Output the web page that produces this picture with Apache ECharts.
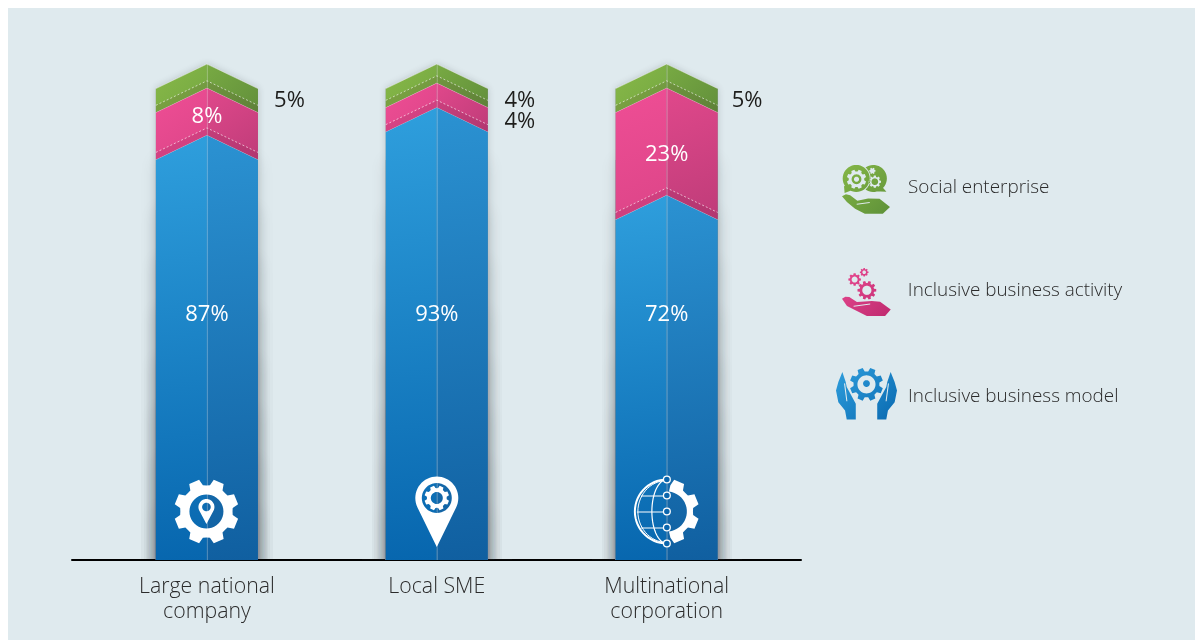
<!DOCTYPE html>
<html><head><meta charset="utf-8">
<style>html,body{margin:0;padding:0;background:#fff}#c{width:1195px;height:640px}</style>
<script src="https://cdn.jsdelivr.net/npm/echarts@6/dist/echarts.min.js"></script>
</head><body><div id="c"></div>
<script>
// Printed values (as labelled in the picture)
const categories = ['Large national\ncompany', 'Local SME', 'Multinational\ncorporation'];
const modelLabels = [87, 93, 72];
const activityLabels = [8, 4, 23];
const socialLabels = [5, 4, 5];
// Segment heights as actually drawn in the picture (the original artwork is not to scale, and
// the bars are all the same height), read on a 0-100 axis.
const modelHeights = [85.7, 91.3, 73.6];
const activityHeights = [9.5, 4.9, 21.6];
const socialHeights = [4.8, 3.8, 4.8];
const seriesNames = ['Inclusive business model', 'Inclusive business activity', 'Social enterprise'];

const FONT = '"Open Sans", sans-serif';
const D = 24.5, STRIP = 7;

// ---------- icon geometry helpers ----------
const area = p => p.reduce((s, q, i) => { const r = p[(i + 1) % p.length]; return s + q[0] * r[1] - r[0] * q[1]; }, 0);
function poly(p, hole) { const a = area(p); return (hole ? a > 0 : a < 0) ? p.slice().reverse() : p; }
function circle(cx, cy, r, n) { const o = []; n = n || 40; for (let i = 0; i < n; i++) { const a = i / n * 2 * Math.PI; o.push([cx + r * Math.cos(a), cy + r * Math.sin(a)]); } return o; }
function gear(cx, cy, R, r, n, phase) {
  const o = [], st = 2 * Math.PI / n;
  for (let i = 0; i < n; i++) {
    const a = i * st + (phase || 0);
    [[-0.33, r], [-0.21, R], [0.21, R], [0.33, r], [0.5, r * 0.985]].forEach(([k, q]) => o.push([cx + q * Math.cos(a + k * st), cy + q * Math.sin(a + k * st)]));
  }
  return o;
}
function pin(cx, cy, r, tipY) {
  const d = tipY - cy, t = Math.acos(r / d), o = [[cx, tipY]];
  const start = Math.PI / 2 - t, end = Math.PI / 2 + t - 2 * Math.PI;
  for (let i = 0; i <= 36; i++) { const a = start + (end - start) * i / 36; o.push([cx + r * Math.cos(a), cy + r * Math.sin(a)]); }
  return o;
}
// padTop / padBottom extend the icon's box with an empty sub-path, which moves the legend text relative to the icon
function toPath(list, padTop, padBottom) {
  let minx = 1e9, miny = 1e9, maxx = -1e9, maxy = -1e9, d = '';
  list.forEach(([p, h]) => {
    const q = poly(p, h);
    q.forEach(([x, y]) => { minx = Math.min(minx, x); miny = Math.min(miny, y); maxx = Math.max(maxx, x); maxy = Math.max(maxy, y); });
    d += 'M' + q.map(([x, y]) => x.toFixed(2) + ' ' + y.toFixed(2)).join('L') + 'Z';
  });
  if (padTop) { miny -= padTop; d += 'M' + minx.toFixed(2) + ' ' + miny.toFixed(2) + 'L' + minx.toFixed(2) + ' ' + miny.toFixed(2) + 'Z'; }
  if (padBottom) { maxy += padBottom; d += 'M' + minx.toFixed(2) + ' ' + maxy.toFixed(2) + 'L' + minx.toFixed(2) + ' ' + maxy.toFixed(2) + 'Z'; }
  return { d, x: minx, y: miny, w: maxx - minx, h: maxy - miny };
}
const zoomed = (pts, ox, oy) => pts.map(([x, y]) => [(x - ox) / 3, (y - oy) / 3]);

// bar icons (local coordinates around the icon centre)
const gearPinIcon = toPath([
  [gear(0, 0, 32.5, 26.5, 8, Math.PI / 8)], [circle(0, 0, 17), true],
  [pin(0, -4.5, 8, 12.5)], [circle(0, -4.5, 4.3), true]
]);
const pinGearIcon = toPath([
  [pin(0, -14, 21.5, 35)], [circle(0, -14, 15), true],
  [gear(0, -14, 12.5, 10, 8, Math.PI / 8)], [circle(0, -14, 6), true]
]);
function halfGear() {
  const pts = gear(0, 0, 32.5, 26.5, 8, Math.PI / 8).filter(p => p[0] > 2);
  const idx = pts.findIndex((p, i) => i > 0 && pts[i - 1][1] > 0 && p[1] < 0);
  const run = idx > 0 ? pts.slice(idx).concat(pts.slice(0, idx)) : pts;
  const inner = [];
  for (let a = 84; a >= -84; a -= 8) inner.push([20 * Math.cos(a * Math.PI / 180), 20 * Math.sin(a * Math.PI / 180)]);
  return run.concat(inner);
}
const halfGearIcon = toPath([[halfGear()]]);

// legend icons
function crescent(x1, x2, y, r1, r2, n) {
  const d = x2 - x1, a = (d * d + r1 * r1 - r2 * r2) / (2 * d);
  const phi = Math.acos(a / r1), th = Math.PI - Math.acos((d - a) / r2), o = [];
  for (let i = 0; i <= n; i++) { const t = -th + 2 * th * i / n; o.push([x2 + r2 * Math.cos(t), y + r2 * Math.sin(t)]); }
  for (let i = 0; i <= n; i++) { const t = phi - 2 * phi * i / n; o.push([x1 + r1 * Math.cos(t), y + r1 * Math.sin(t)]); }
  return o;
}
const socialIcon = toPath([
  [circle(14.5, 14.2, 13.8)],
  [zoomed([[56, 110], [58, 132], [80, 124]], 50, 45)],
  [zoomed([[172, 112], [186, 128], [150, 127]], 50, 45)],
  [gear(14.8, 15, 10, 8, 8, Math.PI / 8), true], [circle(14.8, 15, 5)], [circle(14.8, 15, 2.6), true],
  [crescent(14.5, 32, 14.2, 14.7, 13.8, 30)],
  [gear(33.5, 17.5, 6.4, 5, 8, 0), true], [circle(33.5, 17.5, 3.4)],
  [gear(31, 6.5, 3.3, 2.5, 6, 0), true],
  [zoomed([[50, 142], [62, 136], [75, 139], [97, 156], [130, 149], [165, 150], [197, 175], [175, 196], [120, 196], [90, 180], [65, 160]], 50, 45)],
  [zoomed([[95, 165], [135, 160], [135, 163], [95, 168]], 50, 45), true]
], 3, 0);
const activityIcon = toPath([
  [gear(25, 22.5, 9.5, 7.4, 10, 0)], [circle(25, 22.5, 4.6), true],
  [gear(12.7, 11.7, 6.4, 5, 8, 0)], [circle(12.7, 11.7, 3), true],
  [gear(22.3, 4.4, 4.4, 3.4, 8, 0)], [circle(22.3, 4.4, 1.8), true],
  [zoomed([[50, 133], [60, 127], [72, 128], [95, 143], [140, 140], [165, 142], [197, 165], [180, 185], [125, 185], [95, 170], [65, 155]], 50, 40)],
  [zoomed([[85, 154], [135, 147], [135, 150], [85, 157]], 50, 40), true]
], 2, 0);
const leftHand = [[52, 340 + 15], [62, 385], [65, 400], [92, 450], [92, 497], [65, 497], [60, 470], [40, 445], [33, 410], [40, 385]];
const modelIcon = toPath([
  [gear(30.3, 17.3, 16.7, 13, 8, Math.PI / 8)], [circle(30.3, 17.3, 9), true], [circle(30.3, 16.5, 3.4)],
  [zoomed(leftHand, 33, 340)],
  [zoomed([[57, 390], [60, 388], [67, 442], [64, 442]], 33, 340), true],
  [zoomed(leftHand.map(([x, y]) => [248 - x, y]), 33, 340)],
  [zoomed([[191, 390], [188, 388], [181, 442], [184, 442]], 33, 340), true]
], 0, 6);

const grad = (x2, y2, a, b) => new echarts.graphic.LinearGradient(0, 0, x2, y2, [{ offset: 0, color: a }, { offset: 1, color: b }]);

const palette = {
  blue: { l: ['#2f9fdd', '#0766ae'], r: ['#2b92d2', '#105fa0'] },
  pink: { l: ['#ef4e95', '#dc4588'], r: ['#e0488b', '#bf3c79'] },
  green: { l: ['#88b948', '#74a742'], r: ['#78aa43', '#628f3b'] }
};

// label anchors, in axis units (inside labels don't sit in the geometric middle of the band)
const anchorY = {
  blue: [49.4, 49.4, 49.4], pink: [89.3, 88.3, 81.8], green: [92.5, 92.5, 92.5]
};
const outsideDX = [82.5, 83, 80.5];

function bandChildren(api, x, hw, yt, yb, flatBottom, cols, strip) {
  const db = flatBottom ? 0 : D, c = [];
  c.push({ type: 'polygon', shape: { points: [[x - hw, yt + D], [x, yt], [x, yb], [x - hw, yb + db]] }, style: { fill: grad(1, 1, cols.l[0], cols.l[1]) } });
  c.push({ type: 'polygon', shape: { points: [[x, yt], [x + hw, yt + D], [x + hw, yb + db], [x, yb]] }, style: { fill: grad(1, 1, cols.r[0], cols.r[1]) } });
  if (strip) {
    c.push({ type: 'polygon', shape: { points: [[x - hw, yb + D - STRIP], [x, yb - STRIP], [x + hw, yb + D - STRIP], [x + hw, yb + D], [x, yb], [x - hw, yb + D]] }, style: { fill: 'rgba(70,10,40,0.10)' } });
    c.push({ type: 'polyline', shape: { points: [[x - hw, yb + D - STRIP], [x, yb - STRIP], [x + hw, yb + D - STRIP]] }, style: { fill: null, stroke: 'rgba(255,255,255,0.6)', lineWidth: 1, lineDash: [2, 2] } });
  }
  c.push({ type: 'line', shape: { x1: x + 0.5, y1: yt, x2: x + 0.5, y2: yb }, style: { stroke: 'rgba(255,255,255,0.28)', lineWidth: 1 } });
  c.push({ type: 'polyline', shape: { points: [[x - hw, yt + D], [x, yt], [x + hw, yt + D]] }, style: { fill: null, stroke: 'rgba(255,255,255,0.55)', lineWidth: 1 } });
  return c;
}
const txt = (x, y, text, fill) => ({ type: 'text', x, y, style: { text, fill, fontSize: 22, fontFamily: FONT, fontWeight: 400, align: 'center', verticalAlign: 'middle' } });

function iconPath(icon, cx, cy) {
  return { type: 'path', shape: { pathData: icon.d, x: cx + icon.x, y: cy + icon.y, width: icon.w, height: icon.h, layout: 'cover' }, style: { fill: '#fff' } };
}
function globeIcon(cx, cy) {
  const R = 32, nodes = [-32, -16, 0, 16, 32], c = [], dark = '#0b66ad';
  const arcPts = (rx, ry) => { const o = []; for (let a = 90; a <= 270; a += 6) o.push([cx + rx * Math.cos(a * Math.PI / 180), cy + ry * Math.sin(a * Math.PI / 180)]); return o; };
  c.push({ type: 'polyline', shape: { points: arcPts(R, R) }, style: { fill: null, stroke: '#fff', lineWidth: 2 } });
  c.push({ type: 'polyline', shape: { points: arcPts(R - 3, R - 1) }, style: { fill: null, stroke: '#fff', lineWidth: 1 } });
  c.push({ type: 'polyline', shape: { points: arcPts(15, R) }, style: { fill: null, stroke: '#fff', lineWidth: 1.2 } });
  [-16, 0, 16].forEach(d => {
    const half = Math.sqrt(R * R - d * d);
    c.push({ type: 'line', shape: { x1: cx - half + 2, y1: cy + d + 0.5, x2: cx, y2: cy + d + 0.5 }, style: { stroke: '#fff', lineWidth: 1 } });
  });
  nodes.forEach(d => c.push({ type: 'circle', shape: { cx, cy: cy + d, r: 3.4 }, style: { fill: dark, stroke: '#fff', lineWidth: 1.3 } }));
  c.push(iconPath(halfGearIcon, cx, cy));
  return c;
}

function makeRender(key, labels) {
  return function (params, api) {
    const i = api.value(0), base = api.value(1), top = api.value(2);
    const [x, y0] = api.coord([i, 0]);
    const yb = api.coord([i, base])[1], yt = api.coord([i, top])[1];
    const hw = api.size([1, 0])[0] * 0.444 / 2;
    const children = [];
    if (key === 'blue') {
      const yTop = api.coord([i, 100])[1];
      const sil = [[x - hw, yTop + D], [x, yTop], [x + hw, yTop + D], [x + hw, y0], [x - hw, y0]];
      const shade = [{ type: 'polygon', shape: { points: sil }, style: { fill: '#7f8f95', shadowBlur: 7, shadowColor: 'rgba(40,50,55,0.22)' } }];
      for (let k = 1; k <= 8; k++) {
        const h = k * 50;
        shade.push({ type: 'rect', shape: { x: x - hw, y: y0 - h, width: 2 * hw, height: h + 40 }, style: { fill: '#7f8f95', shadowBlur: 16, shadowColor: 'rgba(30,40,45,0.11)' } });
      }
      children.push({
        type: 'group',
        clipPath: { type: 'rect', shape: { x: x - hw - 40, y: yTop - 20, width: 2 * hw + 80, height: y0 - yTop + 20 } },
        children: shade
      });
    }
    children.push(...bandChildren(api, x, hw, yt, yb, base === 0, palette[key], key !== 'blue'));
    const ly = api.coord([i, anchorY[key][i]])[1];
    if (key === 'blue') {
      children.push(txt(x, ly, labels[i] + '%', '#fff'));
      if (i === 0) children.push(iconPath(gearPinIcon, x - 0.5, y0 - 48.5));
      if (i === 1) children.push(iconPath(pinGearIcon, x, y0 - 48));
      if (i === 2) children.push(...globeIcon(x + 0.2, y0 - 48.5));
    } else if (key === 'pink' && i !== 1) {
      children.push(txt(x, ly, labels[i] + '%', '#fff'));
    } else {
      children.push(txt(x + outsideDX[i], ly, labels[i] + '%', '#1d1d1b'));
    }
    return { type: 'group', children };
  };
}

const rows = (base, h) => h.map((v, i) => [i, base ? base[i] : 0, +((base ? base[i] : 0) + v).toFixed(1)]);
const modelRows = rows(null, modelHeights);
const activityRows = rows(modelRows.map(r => r[2]), activityHeights);
const socialRows = rows(activityRows.map(r => r[2]), socialHeights);

function legendAt(name, icon, fill, left, top, w, h, gap) {
  return {
    left, top, itemWidth: w, itemHeight: h, selectedMode: false, orient: 'vertical', padding: 0,
    data: [{ name, icon: 'path://' + icon.d, itemStyle: { color: fill } }],
    textStyle: { fontFamily: FONT, fontWeight: 300, fontSize: 18.9, color: '#2b2b2b', padding: [0, 0, 0, gap] }
  };
}

const chart = echarts.init(document.getElementById('c'), null, { renderer: 'canvas' });
chart.setOption({
  animation: false,
  graphic: [{ type: 'rect', z: -10, silent: true, shape: { x: 8, y: 8, width: 1187, height: 632 }, style: { fill: '#dfeaee' } }],
  grid: [
    { left: 92, width: 689.6, top: 64, bottom: 80 },
    { left: 72, width: 729, top: 64, bottom: 80 }
  ],
  xAxis: [
    {
      type: 'category', data: categories, gridIndex: 0, axisLine: { show: false }, axisTick: { show: false },
      axisLabel: { margin: 14, fontFamily: FONT, fontWeight: 300, fontSize: 21.3, lineHeight: 25, color: '#2b2b2b' }
    },
    { type: 'value', gridIndex: 1, min: 0, max: 1, axisLine: { show: true, onZero: false, lineStyle: { color: '#000', width: 2 } }, axisTick: { show: false }, axisLabel: { show: false }, splitLine: { show: false } }
  ],
  yAxis: [
    { type: 'value', gridIndex: 0, min: 0, max: 100, show: false },
    { type: 'value', gridIndex: 1, min: 0, max: 100, show: false }
  ],
  legend: [
    legendAt(seriesNames[2], socialIcon, grad(1, 1, '#86b847', '#5e9139'), 842, 162, 48, 53, 13),
    legendAt(seriesNames[1], activityIcon, grad(1, 1, '#ea4c93', '#bf2a6f'), 842, 266, 49, 50, 12),
    legendAt(seriesNames[0], modelIcon, grad(1, 1, '#2f9fdd', '#0766ae'), 836, 368, 61, 59, 6)
  ],
  series: [
    { name: seriesNames[0], type: 'custom', data: modelRows, xAxisIndex: 0, yAxisIndex: 0, clip: false, encode: { x: 0, y: [1, 2] }, renderItem: makeRender('blue', modelLabels) },
    { name: seriesNames[1], type: 'custom', data: activityRows, xAxisIndex: 0, yAxisIndex: 0, clip: false, encode: { x: 0, y: [1, 2] }, renderItem: makeRender('pink', activityLabels) },
    { name: seriesNames[2], type: 'custom', data: socialRows, xAxisIndex: 0, yAxisIndex: 0, clip: false, encode: { x: 0, y: [1, 2] }, renderItem: makeRender('green', socialLabels) }
  ]
});
</script></body></html>
